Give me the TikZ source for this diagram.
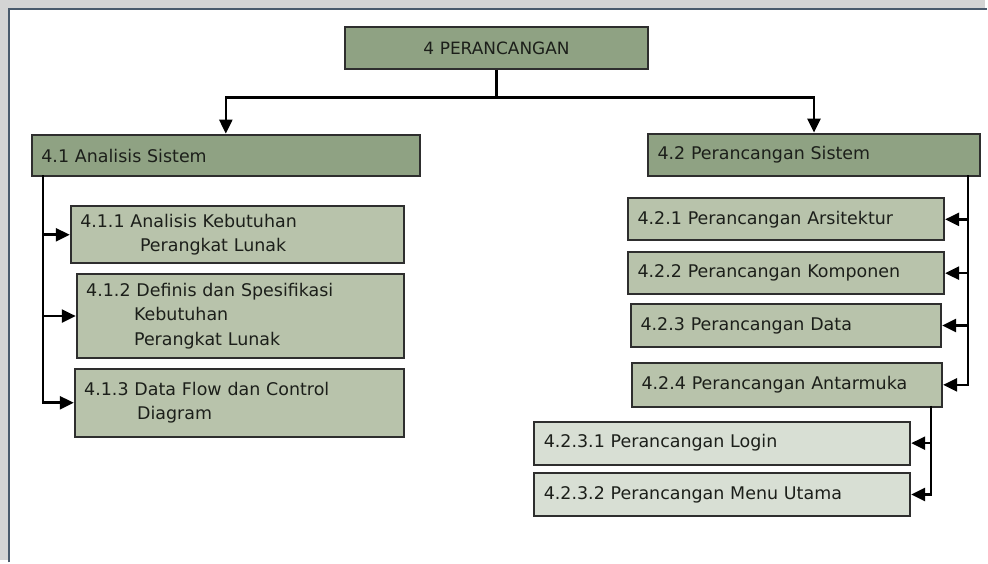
\documentclass[tikz,border=0pt]{standalone}
\usepackage{fontspec}
\setmainfont{DejaVu Sans}
\usetikzlibrary{arrows.meta}

\definecolor{boxdark}{HTML}{8FA283}
\definecolor{boxmid}{HTML}{B8C3AB}
\definecolor{boxlight}{HTML}{D8DFD4}
\definecolor{edgegray}{HTML}{2E2E2E}
\definecolor{frameblue}{HTML}{4A5A6C}
\definecolor{outergray}{HTML}{D4D4D4}
\definecolor{inktext}{HTML}{1C1F1A}

\tikzset{
  box/.style={draw=edgegray, line width=2pt, anchor=north west,
    inner xsep=9.5pt, inner ysep=0pt, align=left, text=inktext,
    font=\fontsize{17.5}{24.5}\selectfont},
  darkbox/.style={box, fill=boxdark},
  midbox/.style={box, fill=boxmid},
  lightbox/.style={box, fill=boxlight},
  conn/.style={draw=black, line width=2.6pt},
  arr/.style={conn, -{Triangle[length=14pt,width=13pt]}},
}

\begin{document}
\begin{tikzpicture}[x=1pt, y=-1pt]
  % page and frame
  \fill[outergray] (0,0) rectangle (988,562);
  \fill[white] (9.5,9.5) rectangle (990,564);
  \draw[frameblue, line width=2pt] (9.5,564) -- (9.5,9.5) -- (990,9.5);
  \useasboundingbox (0,0) rectangle (988,562);

  % root
  \node[darkbox, align=center, text width=285pt, minimum height=42pt,
        font=\fontsize{17}{20}\selectfont] (top) at (345,26) {4 PERANCANGAN};

  % level 1
  \node[darkbox, text width=370pt, minimum height=42pt] (a41) at (31,134) {4.1 Analisis Sistem};
  \node[darkbox, text width=314pt, minimum height=43pt] (a42) at (649,133) {4.2 Perancangan Sistem};

  % left branch
  \node[midbox, text width=315pt, minimum height=57pt] (b411) at (70,206)
    {4.1.1 Analisis Kebutuhan\\\hspace*{60pt}Perangkat Lunak};
  \node[midbox, text width=309pt, minimum height=84pt] (b412) at (76,274)
    {4.1.2 Definis dan Spesifikasi\\\hspace*{48pt}Kebutuhan\\\hspace*{48pt}Perangkat Lunak};
  \node[midbox, text width=311pt, minimum height=68pt] (b413) at (74,369)
    {4.1.3 Data Flow dan Control\\\hspace*{53pt}Diagram};

  % right branch
  \node[midbox, text width=298pt, minimum height=42pt] (c421) at (629,198) {4.2.1 Perancangan Arsitektur};
  \node[midbox, text width=298pt, minimum height=42pt] (c422) at (629,252) {4.2.2 Perancangan Komponen};
  \node[midbox, text width=292pt, minimum height=43pt] (c423) at (632,304) {4.2.3 Perancangan Data};
  \node[midbox, text width=292pt, minimum height=44pt] (c424) at (633,363) {4.2.4 Perancangan Antarmuka};

  \node[lightbox, text width=358pt, minimum height=43pt] (d1) at (535,422) {4.2.3.1 Perancangan Login};
  \node[lightbox, text width=358pt, minimum height=44pt] (d2) at (535,473) {4.2.3.2 Perancangan Menu Utama};

  % connectors from the root
  \coordinate (hub) at (top.south |- 0,98);
  \draw[conn] (top.south) -- (hub);
  \draw[arr] (hub) -| (a41.north);
  \draw[arr] (hub) -| (a42.north);

  % left trunk
  \coordinate (lt) at (43,176);
  \draw[arr] (lt) |- (b411.west);
  \draw[arr] (lt) |- (b412.west);
  \draw[arr] (lt) |- (b413.west);

  % right trunk
  \coordinate (rt) at (971,176);
  \draw[arr] (rt) |- (c421.east);
  \draw[arr] (rt) |- (c422.east);
  \draw[arr] (rt) |- (c423.east);
  \draw[arr] (rt) |- (c424.east);

  % sub trunk below 4.2.4
  \coordinate (st) at (934,407);
  \draw[arr] (st) |- (d1.east);
  \draw[arr] (st) |- (d2.east);
\end{tikzpicture}
\end{document}
